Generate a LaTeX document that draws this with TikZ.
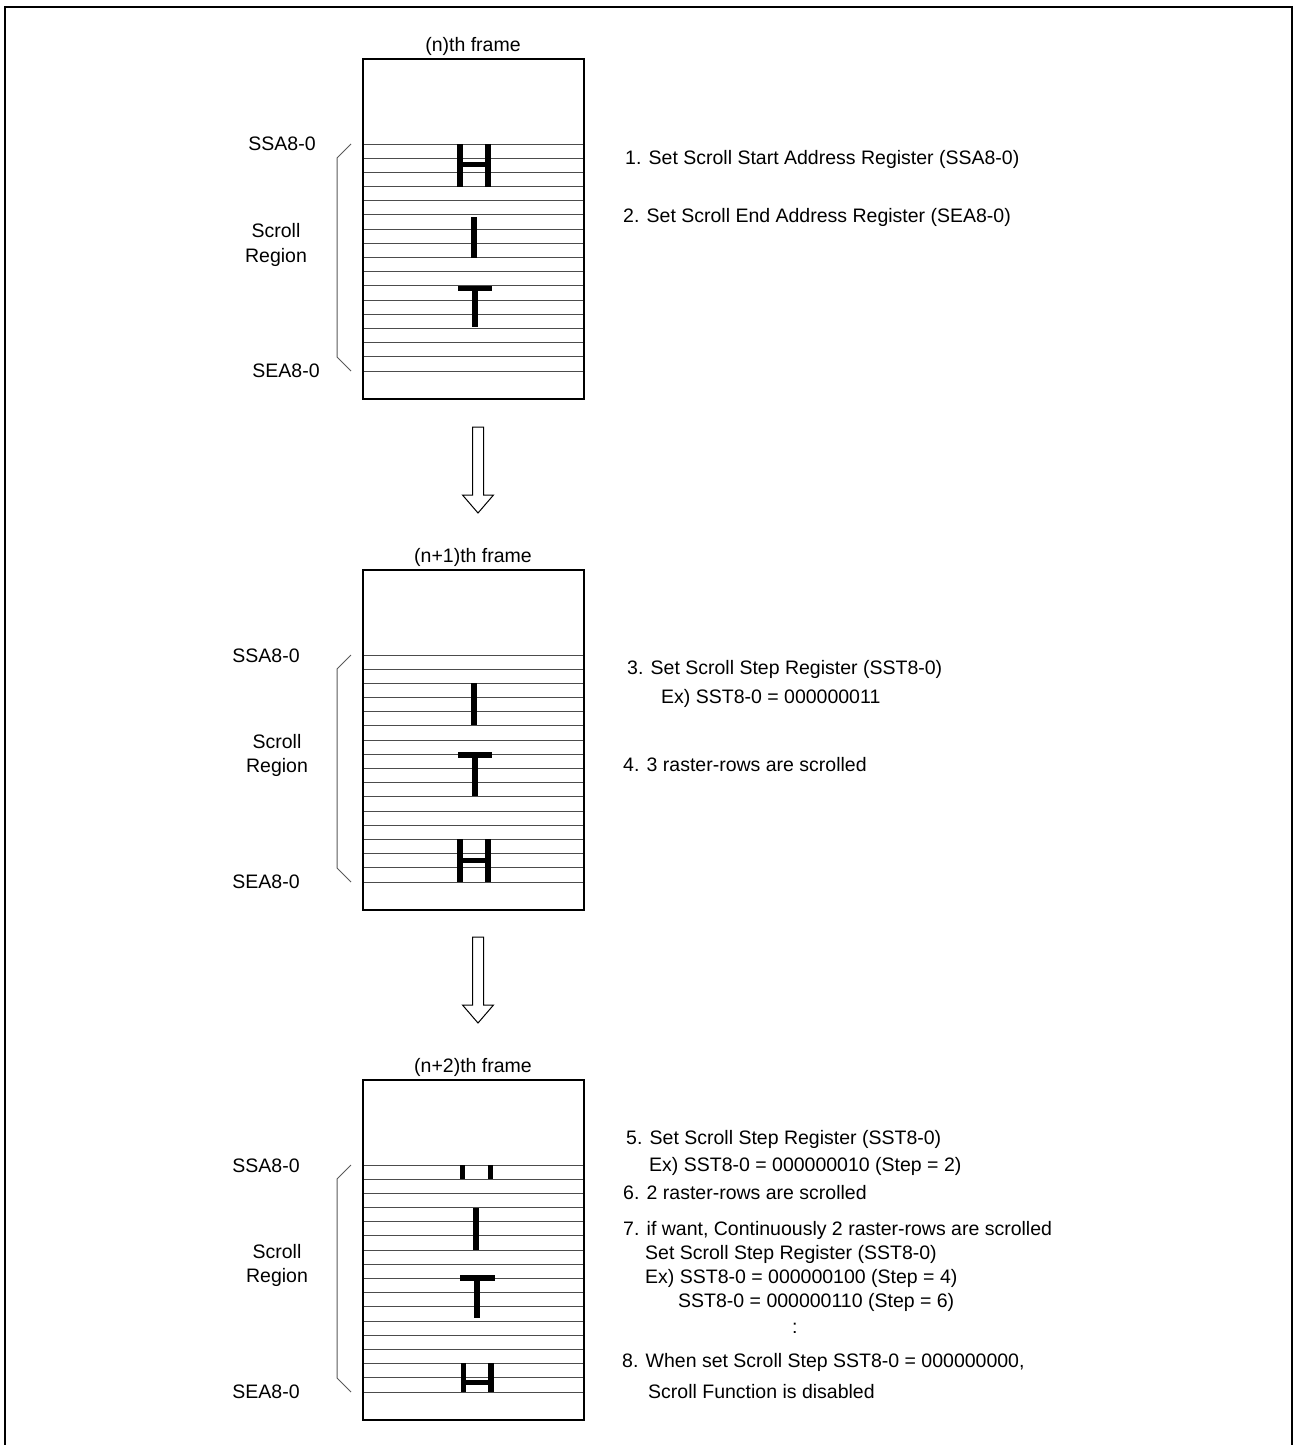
\documentclass[tikz,border=0pt]{standalone}
\usepackage{fontspec}
\setmainfont{Liberation Sans}
\begin{document}
\begin{tikzpicture}[x=1pt,y=-1pt,
  txt/.style={inner sep=0pt,font=\fontsize{19.5}{23}\selectfont,anchor=base west},
  ctxt/.style={inner sep=0pt,font=\fontsize{19.5}{23}\selectfont,anchor=base},
  framebox/.style={draw,line width=2pt,minimum width=221pt,minimum height=340pt,inner sep=0pt},
  scanline/.style={draw=black!70,line width=1pt},
  bracket/.style={draw=black!65,line width=1pt},
  glyph/.style={line width=5.5pt,line cap=butt},
  blockarrow/.style={draw,line width=1pt,fill=white}]
\useasboundingbox (0,0) rectangle (1295,1445);
\draw[line width=2pt] (5,1450) -- (5,7) -- (1292,7) -- (1292,1450);

% frames
\node[framebox] (f1) at (473.5,229) {};
\node[framebox] (f2) at (473.5,739.5) {};
\node[framebox] (f3) at (473.5,1250) {};

\foreach \o in {0,511,1021}{
  \foreach \i in {0,...,16}{
    \pgfmathsetmacro\yy{144+\i*14.1875+\o}
    \draw[scanline] (364,\yy) -- (583,\yy);
  }
  \draw[bracket] (351,144+\o) -- (337,158+\o) -- (337,357+\o) -- (351,371+\o);
}

% frame titles
\node[ctxt] (t1) at (473,52) {(n)th frame};
\node[ctxt] (t2) at (473,562) {(n+1)th frame};
\node[ctxt] (t3) at (473,1072) {(n+2)th frame};

% left labels frame 1
\node[ctxt] (ssa1) at (282,150) {SSA8-0};
\node[ctxt] (sc1) at (276,237) {Scroll};
\node[ctxt] (rg1) at (276,262) {Region};
\node[ctxt] (sea1) at (286,377) {SEA8-0};
% frame 2
\node[ctxt] (ssa2) at (266,662) {SSA8-0};
\node[ctxt] (sc2) at (277,748) {Scroll};
\node[ctxt] (rg2) at (277,772) {Region};
\node[ctxt] (sea2) at (266,888) {SEA8-0};
% frame 3
\node[ctxt] (ssa3) at (266,1172) {SSA8-0};
\node[ctxt] (sc3) at (277,1258) {Scroll};
\node[ctxt] (rg3) at (277,1282) {Region};
\node[ctxt] (sea3) at (266,1398) {SEA8-0};

% glyphs frame 1
\draw[glyph] (460,144) -- (460,187) (488,144) -- (488,187) (460,164.5) -- (488,164.5);
\draw[glyph] (474,217) -- (474,258);
\draw[glyph] (458,288.5) -- (492,288.5) (475,288.5) -- (475,327);
% glyphs frame 2
\draw[glyph] (474,683) -- (474,725);
\draw[glyph] (458,755) -- (492,755) (475,755) -- (475,796);
\draw[glyph] (460,839) -- (460,882) (488,839) -- (488,882) (460,860.5) -- (488,860.5);
% glyphs frame 3
\draw[glyph] (462.5,1165) -- (462.5,1179) (490.5,1165) -- (490.5,1179);
\draw[glyph] (476,1208) -- (476,1250);
\draw[glyph] (460,1278) -- (495,1278) (477,1278) -- (477,1318);
\draw[glyph] (463.5,1363) -- (463.5,1392) (491,1363) -- (491,1392) (463.5,1382.5) -- (491,1382.5);

% block arrows
\draw[blockarrow] (472.5,427) -- (483.5,427) -- (483.5,495) -- (493.5,495) -- (478,513) -- (462.5,495) -- (472.5,495) -- cycle;
\draw[blockarrow] (472.5,937) -- (483.5,937) -- (483.5,1005) -- (493.5,1005) -- (478,1023) -- (462.5,1005) -- (472.5,1005) -- cycle;

% right texts
\node[txt] (s1) at (625,164) {1. Set Scroll Start Address Register (SSA8-0)};
\node[txt] (s2) at (623,222) {2. Set Scroll End Address Register (SEA8-0)};
\node[txt] (s3) at (627,674) {3. Set Scroll Step Register (SST8-0)};
\node[txt] (s3b) at (661,703) {Ex) SST8-0 = 000000011};
\node[txt] (s4) at (623,771) {4. 3 raster-rows are scrolled};
\node[txt] (s5) at (626,1144) {5. Set Scroll Step Register (SST8-0)};
\node[txt] (s5b) at (649,1171) {Ex) SST8-0 = 000000010 (Step = 2)};
\node[txt] (s6) at (623,1199) {6. 2 raster-rows are scrolled};
\node[txt] (s7) at (623,1235) {7. if want, Continuously 2 raster-rows are scrolled};
\node[txt] (s7b) at (645,1259) {Set Scroll Step Register (SST8-0)};
\node[txt] (s7c) at (645,1283) {Ex) SST8-0 = 000000100 (Step = 4)};
\node[txt] (s7d) at (678,1307) {SST8-0 = 000000110 (Step = 6)};
\node[txt] (s7e) at (792,1333) {:};
\node[txt] (s8) at (622,1367) {8. When set Scroll Step SST8-0 = 000000000,};
\node[txt] (s8b) at (648,1398) {Scroll Function is disabled};
\end{tikzpicture}
\end{document}
